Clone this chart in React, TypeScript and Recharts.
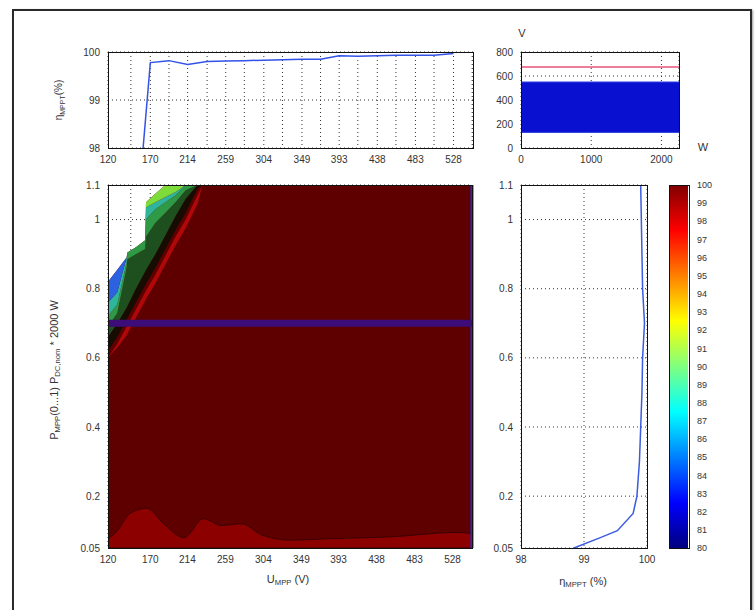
import React from "react";
import {
	Area,
	Bar,
	BarChart,
	CartesianGrid,
	ComposedChart,
	Line,
	LineChart,
	ReferenceLine,
	XAxis,
	YAxis,
} from "recharts";

// MPP voltage grid (V), labels shown on every other tick
const uGrid = [120, 147, 170, 192, 214, 237, 259, 281, 304, 326, 349, 371, 393, 415, 438, 460, 483, 505, 528, 550];
const uMin = 120;
const uMax = 551;
// eta_MPPT over voltage (%)
const etaByU = [85, 95, 99.78, 99.82, 99.74, 99.8, 99.81, 99.82, 99.83, 99.84, 99.85, 99.85, 99.92, 99.91, 99.92, 99.93, 99.93, 99.93, 99.97, null];

// power levels (P_MPP / P_DC,nom) and eta_MPPT over power (%)
const pTicks = [0.05, 0.2, 0.4, 0.6, 0.8, 1, 1.1];
const pLevels = [0.05, 0.08, 0.1, 0.15, 0.2, 0.3, 0.4, 0.5, 0.6, 0.7, 0.8, 0.9, 1.0, 1.1];
const etaByP = [98.84, 99.26, 99.53, 99.78, 99.84, 99.88, 99.9, 99.92, 99.93, 99.96, 99.93, 99.92, 99.91, 99.9];

// contour bands of the efficiency map (upper left corner)
const contourU = [120, 131, 142, 143, 153, 164, 165, 176, 188, 200, 212, 226, 232, 551];
const redLo = [0.6, 0.63, 0.665, 0.67, 0.715, 0.765, 0.77, 0.815, 0.87, 0.925, 0.975, 1.045, 1.1, 1.1];
const redHi = [0.6, 0.64, 0.69, 0.695, 0.74, 0.79, 0.795, 0.84, 0.895, 0.95, 1.0, 1.07, 1.1, 1.1];
const blkLo = [0.62, 0.66, 0.71, 0.715, 0.76, 0.81, 0.815, 0.86, 0.915, 0.97, 1.02, 1.09, 1.1, 1.1];
const blkHi = [0.66, 0.7, 0.745, 0.75, 0.8, 0.85, 0.855, 0.9, 0.955, 1.01, 1.06, 1.1, 1.1, 1.1];
const dkgHi = [0.69, 0.73, 0.86, 0.885, 0.9, 0.915, 0.95, 0.99, 1.02, 1.05, 1.085, 1.1, 1.1, 1.1];
const grnHi = [0.72, 0.755, 0.875, 0.905, 0.92, 0.94, 1.0, 1.03, 1.05, 1.07, 1.1, 1.1, 1.1, 1.1];
const cyanHi = [0.76, 0.79, 0.89, 0.905, 0.92, 0.94, 1.035, 1.05, 1.065, 1.08, 1.1, 1.1, 1.1, 1.1];
const limeHi = [0.76, 0.79, 0.89, 0.905, 0.92, 0.94, 1.05, 1.075, 1.1, 1.1, 1.1, 1.1, 1.1, 1.1];
const whiteLo = [0.82, 0.855, 0.89, 0.905, 0.92, 0.94, 1.05, 1.075, 1.1, 1.1, 1.1, 1.1, 1.1, 1.1];

// low-power band (slightly lower efficiency) along the bottom
const bottomU = [120, 131, 146, 166, 186, 210, 233, 254, 278, 302, 334, 397, 453, 532, 551];
const bottomTop = [0.075, 0.1, 0.15, 0.165, 0.12, 0.08, 0.135, 0.115, 0.12, 0.088, 0.073, 0.078, 0.082, 0.095, 0.092];
const mppLevel = 0.7;

// MPP voltage window (inset)
const vWindow = [130, 550];
const vMaxLine = 675;
const wMax = 2250;

const cbTicks = Array.from({ length: 21 }, (_, i) => 80 + i);

const contourRows = contourU.map((u, i) => ({
	u,
	base: [0.05, whiteLo[i]],
	red: [redLo[i], redHi[i]],
	blk: [blkLo[i], blkHi[i]],
	dkg: [blkHi[i], dkgHi[i]],
	grn: [dkgHi[i], grnHi[i]],
	cyan: [grnHi[i], cyanHi[i]],
	lime: [cyanHi[i], limeHi[i]],
	blue: [limeHi[i], whiteLo[i]],
}));
const bottomRows = bottomU.map((u, i) => ({ u, band: [0.05, bottomTop[i]] }));
const mppRows = [{ u: uMin, p: mppLevel }, { u: uMax, p: mppLevel }];
const etaURows = uGrid.map((u, i) => ({ u, eta: etaByU[i] }));
const etaPRows = pLevels.map((p, i) => ({ p, eta: etaByP[i] }));
const windowRows = [0, wMax].map((w) => ({ w, win: vWindow, vmax: vMaxLine }));

const bands = [
	{ key: "red", color: "#b00808" },
	{ key: "blk", color: "#160c02" },
	{ key: "dkg", color: "#1d4f1f" },
	{ key: "grn", color: "#2e9a46" },
	{ key: "cyan", color: "#2fb59c" },
	{ key: "lime", color: "#7ddc3a" },
	{ key: "blue", color: "#2a62e0" },
];

const tickStyle = { fontSize: 10, fill: "#333", fontFamily: "Liberation Sans, Arial, sans-serif" };
const gridProps = { stroke: "#333", strokeDasharray: "1 3" };
const uTickFmt = (v: number, i: number) => (i % 2 === 0 ? String(v) : "");

function Box({ x, y, w, h }: { x: number; y: number; w: number; h: number }) {
	return (
		<div
			style={{
				position: "absolute",
				left: x,
				top: y,
				width: w,
				height: h,
				border: "1px solid #111",
				boxSizing: "border-box",
				pointerEvents: "none",
			}}
		/>
	);
}

function Title({ x, y, rotate, children, size = 10 }: { x: number; y: number; rotate?: boolean; children: React.ReactNode; size?: number }) {
	return (
		<div
			style={{
				position: "absolute",
				left: x,
				top: y,
				transform: `translate(-50%, -50%)${rotate ? " rotate(-90deg)" : ""}`,
				whiteSpace: "nowrap",
				fontSize: size,
				color: "#333",
				lineHeight: 1,
			}}
		>
			{children}
		</div>
	);
}

const subStyle = { fontSize: "0.7em", verticalAlign: "-0.3em" };

export default function App() {
	return (
		<div
			style={{
				position: "absolute",
				left: 0,
				top: 0,
				width: 755,
				height: 610,
				background: "#fff",
				overflow: "hidden",
				fontFamily: "Liberation Sans, Arial, sans-serif",
			}}
		>
			<div
				style={{
					position: "absolute",
					left: 12,
					top: 9,
					width: 736,
					height: 640,
					border: "2px solid #2a2a2a",
					boxShadow: "1px 1px 2px #999",
				}}
			/>

			{/* top left: eta over voltage */}
			<div style={{ position: "absolute", left: 20, top: 40 }}>
				<LineChart width={470} height={130} data={etaURows} margin={{ top: 12, right: 17, left: 48, bottom: 2 }}>
					<CartesianGrid {...gridProps} />
					<XAxis
						dataKey="u"
						type="number"
						domain={[uMin, uMax]}
						ticks={uGrid}
						interval={0}
						tickFormatter={uTickFmt}
						tick={tickStyle}
						tickLine={false}
						axisLine={false}
						height={20}
						allowDataOverflow
					/>
					<YAxis
						type="number"
						domain={[98, 100]}
						ticks={[98, 99, 100]}
						tick={tickStyle}
						tickLine={false}
						axisLine={false}
						width={40}
						allowDataOverflow
					/>
					<Line dataKey="eta" stroke="#3352e8" strokeWidth={1.5} dot={false} activeDot={false} isAnimationActive={false} />
				</LineChart>
			</div>
			<Box x={108} y={52} w={366} h={97} />
			<Title x={60} y={100} rotate>
				η<span style={subStyle}>MPPT</span>(%)
			</Title>

			{/* top right: voltage window */}
			<div style={{ position: "absolute", left: 480, top: 40 }}>
				<ComposedChart width={230} height={130} data={windowRows} margin={{ top: 12, right: 31, left: 9, bottom: 2 }}>
					<CartesianGrid {...gridProps} />
					<XAxis
						dataKey="w"
						type="number"
						domain={[0, wMax]}
						ticks={[0, 1000, 2000]}
						tick={tickStyle}
						tickLine={false}
						axisLine={false}
						height={20}
					/>
					<YAxis
						type="number"
						domain={[0, 800]}
						ticks={[0, 200, 400, 600, 800]}
						tick={tickStyle}
						tickLine={false}
						axisLine={false}
						width={32}
					/>
					<Area
						dataKey="win"
						type="linear"
						fill="#0a10d0"
						fillOpacity={1}
						stroke="#2a40e0"
						isAnimationActive={false}
						dot={false}
						activeDot={false}
					/>
					<Line dataKey="vmax" stroke="#e8507a" strokeWidth={1.5} dot={false} activeDot={false} isAnimationActive={false} />
				</ComposedChart>
			</div>
			<Box x={521} y={52} w={159} h={97} />
			<Title x={522} y={33} size={11}>V</Title>
			<Title x={703} y={147} size={11}>W</Title>

			{/* main efficiency map */}
			<div style={{ position: "absolute", left: 20, top: 170 }}>
				<ComposedChart width={470} height={405} margin={{ top: 15, right: 18, left: 48, bottom: 7 }}>
					<CartesianGrid {...gridProps} />
					<XAxis
						dataKey="u"
						type="number"
						domain={[uMin, uMax]}
						ticks={uGrid}
						interval={0}
						tickFormatter={uTickFmt}
						tick={tickStyle}
						tickLine={false}
						axisLine={false}
						height={20}
						allowDataOverflow
					/>
					<YAxis
						type="number"
						domain={[0.05, 1.1]}
						ticks={pTicks}
						interval={0}
						tick={tickStyle}
						tickLine={false}
						axisLine={false}
						width={40}
						allowDataOverflow
					/>
					<Area
						data={contourRows}
						dataKey={(r: any) => r.base}
						type="linear"
						fill="#5e0000"
						fillOpacity={1}
						stroke="none"
						isAnimationActive={false}
						dot={false}
						activeDot={false}
					/>
					<Area
						data={bottomRows}
						dataKey={(r: any) => r.band}
						type="monotone"
						fill="#8c0000"
						fillOpacity={1}
						stroke="#3a0000"
						strokeWidth={1}
						isAnimationActive={false}
						dot={false}
						activeDot={false}
					/>
					{bands.map((b) => (
						<Area
							key={b.key}
							data={contourRows}
							dataKey={(r: any) => r[b.key]}
							type="linear"
							fill={b.color}
							fillOpacity={1}
							stroke="none"
							isAnimationActive={false}
							dot={false}
							activeDot={false}
						/>
					))}
					<ReferenceLine x={uMax} stroke="#2828d0" strokeWidth={3} />
					<Line
						data={mppRows}
						dataKey="p"
						stroke="#3c0c78"
						strokeWidth={7}
						dot={false}
						activeDot={false}
						isAnimationActive={false}
					/>
				</ComposedChart>
			</div>
			<Box x={108} y={185} w={365} h={364} />
			<Title x={55} y={370} rotate size={11}>
				P<span style={subStyle}>MPP</span>(0...1) P<span style={subStyle}>DC,nom</span> * 2000 W
			</Title>
			<Title x={288} y={580} size={11}>
				U<span style={subStyle}>MPP</span> (V)
			</Title>

			{/* right: eta over power */}
			<div style={{ position: "absolute", left: 480, top: 170 }}>
				<LineChart width={180} height={405} data={etaPRows} margin={{ top: 15, right: 13, left: 9, bottom: 7 }}>
					<CartesianGrid {...gridProps} />
					<XAxis
						dataKey="eta"
						type="number"
						domain={[98, 100]}
						ticks={[98, 99, 100]}
						tick={tickStyle}
						tickLine={false}
						axisLine={false}
						height={20}
						allowDataOverflow
					/>
					<YAxis
						dataKey="p"
						type="number"
						domain={[0.05, 1.1]}
						ticks={pTicks}
						interval={0}
						tick={tickStyle}
						tickLine={false}
						axisLine={false}
						width={32}
						allowDataOverflow
					/>
					<Line dataKey="p" stroke="#3b5be0" strokeWidth={1.5} dot={false} activeDot={false} isAnimationActive={false} />
				</LineChart>
			</div>
			<Box x={521} y={185} w={127} h={364} />
			<Title x={583} y={582} size={11}>
				η<span style={subStyle}>MPPT</span> (%)
			</Title>

			{/* colorbar */}
			<div style={{ position: "absolute", left: 660, top: 170 }}>
				<BarChart width={60} height={405} data={[{ name: "cb", range: [80, 100] }]} margin={{ top: 15, right: 7, left: 9, bottom: 27 }} barCategoryGap={0}>
					<defs>
						<linearGradient id="jet" x1="0" y1="1" x2="0" y2="0">
							<stop offset="0" stopColor="#00007f" />
							<stop offset="0.125" stopColor="#0000ff" />
							<stop offset="0.375" stopColor="#00ffff" />
							<stop offset="0.625" stopColor="#ffff00" />
							<stop offset="0.875" stopColor="#ff0000" />
							<stop offset="1" stopColor="#7f0000" />
						</linearGradient>
					</defs>
					<XAxis dataKey="name" hide />
					<YAxis
						orientation="right"
						type="number"
						domain={[80, 100]}
						ticks={cbTicks}
						interval={0}
						tick={{ ...tickStyle, fontSize: 9 }}
						tickLine={false}
						axisLine={false}
						tickMargin={2}
						width={24}
					/>
					<Bar dataKey="range" fill="url(#jet)" barSize={20} isAnimationActive={false} />
				</BarChart>
			</div>
			<Box x={669} y={185} w={21} h={364} />
		</div>
	);
}
